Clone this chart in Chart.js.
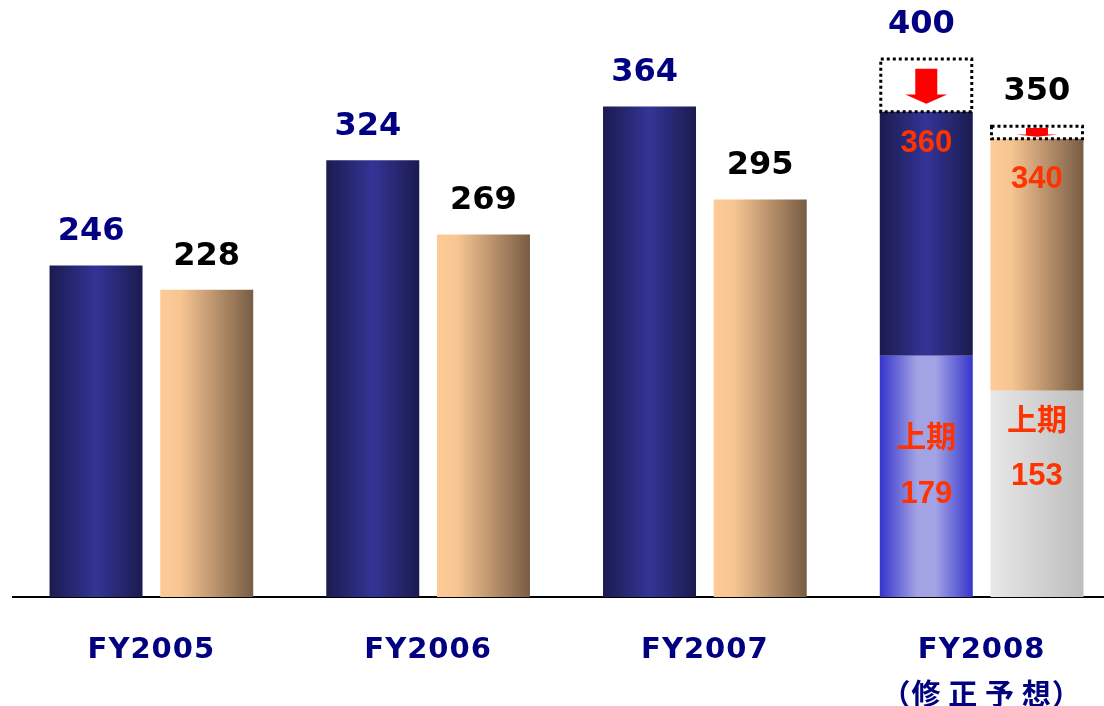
<!DOCTYPE html>
<html>
<head>
<meta charset="utf-8">
<script src="https://cdn.jsdelivr.net/npm/chart.js@4.4.1/dist/chart.umd.min.js"></script>
<style>
  html, body { margin: 0; padding: 0; background: #fff; overflow: hidden; }
  #wrap { width: 1120px; height: 706px; }
</style>
</head>
<body>
<div id="wrap"><canvas id="chart" width="1120" height="706"></canvas></div>
<script>
// ── data ──────────────────────────────────────────────
const categories = [['FY2005'], ['FY2006'], ['FY2007'], ['FY2008', '（修\u2009正\u2009予\u2009想）']];
const navyTotals = [246, 324, 364, 360];
const tanTotals = [228, 269, 295, 340];
const navyFirstHalf = [null, null, null, 179];
const tanFirstHalf = [null, null, null, 153];
const navyPrevForecast = [null, null, null, 400];
const tanPrevForecast = [null, null, null, 350];
const firstHalfLabel = '上期';

// ── styles per stack ──────────────────────────────────
const STYLE = {
  navy: {
    main: [[0, '#1b1b4f'], [0.5, '#343497'], [1, '#1b1b4f']],
    lower: [[0, '#3535cc'], [0.4, '#a2a2e4'], [0.6, '#a2a2e4'], [1, '#3535cc']],
    topColor: '#000080', topDx: -5, mainDy: 32, halfDy: [80, 139],
  },
  tan: {
    main: [[0, '#fdcb98'], [0.22, '#f6c592'], [1, '#785c44']],
    lower: [[0, '#e8e8e8'], [1, '#bdbdbd']],
    topColor: '#000000', topDx: 0, mainDy: 41, halfDy: [28, 86],
  },
};

const floatFrom = (lo, hi) => hi.map((v, i) => v == null ? null : [lo[i] == null ? 0 : lo[i], v]);

function makeSet(stack, role, data, labels) {
  return {
    stack, role, data, labelValues: labels,
    stops: role === 'box' ? null : STYLE[stack][role],
    // scriptable so every bar gets its own options object
    backgroundColor: () => role === 'box' ? '#ffffff' : '#888888',
    borderWidth: 0,
    categoryPercentage: 0.8,
    barPercentage: 0.84,
  };
}

const datasets = [
  makeSet('navy', 'lower', navyFirstHalf.map(v => v == null ? null : [0, v]), navyFirstHalf),
  makeSet('navy', 'main', floatFrom(navyFirstHalf, navyTotals), navyTotals),
  makeSet('navy', 'box', floatFrom(navyTotals, navyPrevForecast), navyPrevForecast),
  makeSet('tan', 'lower', tanFirstHalf.map(v => v == null ? null : [0, v]), tanFirstHalf),
  makeSet('tan', 'main', floatFrom(tanFirstHalf, tanTotals), tanTotals),
  makeSet('tan', 'box', floatFrom(tanTotals, tanPrevForecast), tanPrevForecast),
];

// horizontal gradients, built from each bar's own position
const gradientBars = {
  id: 'gradientBars',
  beforeDraw(chart) { chart.ctx.letterSpacing = '1px'; },
  beforeDatasetsDraw(chart) {
    const ctx = chart.ctx;
    ctx.letterSpacing = '0px';
    chart.data.datasets.forEach((ds, di) => {
      if (!ds.stops) return;
      chart.getDatasetMeta(di).data.forEach((bar, i) => {
        if (ds.data[i] == null) return;
        const g = ctx.createLinearGradient(bar.x - bar.width / 2, 0, bar.x + bar.width / 2, 0);
        ds.stops.forEach(([p, c]) => g.addColorStop(p, c));
        bar.options = Object.assign({}, bar.options, { backgroundColor: g });
      });
    });
  }
};

function drawArrow(ctx, x, top, h) {
  const y1 = top + h * 0.2, y2 = top + h * 0.68, y3 = top + h * 0.85;
  ctx.fillStyle = '#ff0000';
  ctx.beginPath();
  ctx.moveTo(x - 11, y1); ctx.lineTo(x + 11, y1); ctx.lineTo(x + 11, y2);
  ctx.lineTo(x + 21, y2); ctx.lineTo(x, y3); ctx.lineTo(x - 21, y2);
  ctx.lineTo(x - 11, y2); ctx.closePath();
  ctx.fill();
}

const barLabels = {
  id: 'barLabels',
  afterDatasetsDraw(chart) {
    const ctx = chart.ctx;
    ctx.save();
    ctx.textAlign = 'center';
    chart.data.datasets.forEach((ds, di) => {
      const st = STYLE[ds.stack];
      const prev = ds.stack === 'navy' ? navyPrevForecast : tanPrevForecast;
      chart.getDatasetMeta(di).data.forEach((bar, i) => {
        if (ds.data[i] == null) return;
        const x = bar.x, top = bar.y, h = bar.base - bar.y, w = bar.width;
        let isTop = false;

        if (ds.role === 'box') {
          ctx.strokeStyle = '#000';
          ctx.lineWidth = 3;
          ctx.setLineDash([3, 3]);
          ctx.strokeRect(x - w / 2 + 1, top + 1, w - 2, h - 1);
          ctx.setLineDash([]);
          drawArrow(ctx, x, top, h);
          isTop = true;
        }
        if (ds.role === 'main') {
          if (prev[i] != null) {
            ctx.fillStyle = '#ff3300';
            ctx.font = 'bold 31px "Liberation Sans", Arial, sans-serif';
            ctx.textBaseline = 'middle';
            ctx.fillText(String(ds.labelValues[i]), x, top + st.mainDy);
          } else {
            isTop = true;
          }
        }
        if (ds.role === 'lower') {
          ctx.fillStyle = '#ff3300';
          ctx.textBaseline = 'middle';
          ctx.font = 'bold 30px "Noto Sans CJK JP", sans-serif';
          ctx.fillText(firstHalfLabel, x, top + st.halfDy[0]);
          ctx.font = 'bold 31px "Liberation Sans", Arial, sans-serif';
          ctx.fillText(String(ds.labelValues[i]), x, top + st.halfDy[1]);
        }
        if (isTop) {
          ctx.fillStyle = st.topColor;
          ctx.font = 'bold 32px "DejaVu Sans", sans-serif';
          ctx.textBaseline = 'alphabetic';
          ctx.fillText(String(ds.labelValues[i]), x + st.topDx, top - 25);
        }
      });
    });
    ctx.restore();
  }
};

new Chart(document.getElementById('chart').getContext('2d'), {
  type: 'bar',
  data: { labels: categories, datasets },
  options: {
    responsive: false,
    animation: false,
    devicePixelRatio: 1,
    layout: { padding: { left: 13, right: 0, top: 0, bottom: 0 } },
    plugins: { legend: { display: false }, tooltip: { enabled: false } },
    scales: {
      x: {
        grid: { display: false },
        border: { display: true, color: '#000000', width: 2 },
        ticks: {
          color: '#000080',
          font: { family: '"DejaVu Sans", "Noto Sans CJK JP", sans-serif', size: 29, weight: 'bold', lineHeight: 1.62 },
          padding: 22,
          maxRotation: 0,
          autoSkip: false,
        },
        afterFit: scale => { scale.height = 109; },
      },
      y: { display: false, stacked: false, min: 0, max: 443 },
    },
  },
  plugins: [gradientBars, barLabels],
});
</script>
</body>
</html>
